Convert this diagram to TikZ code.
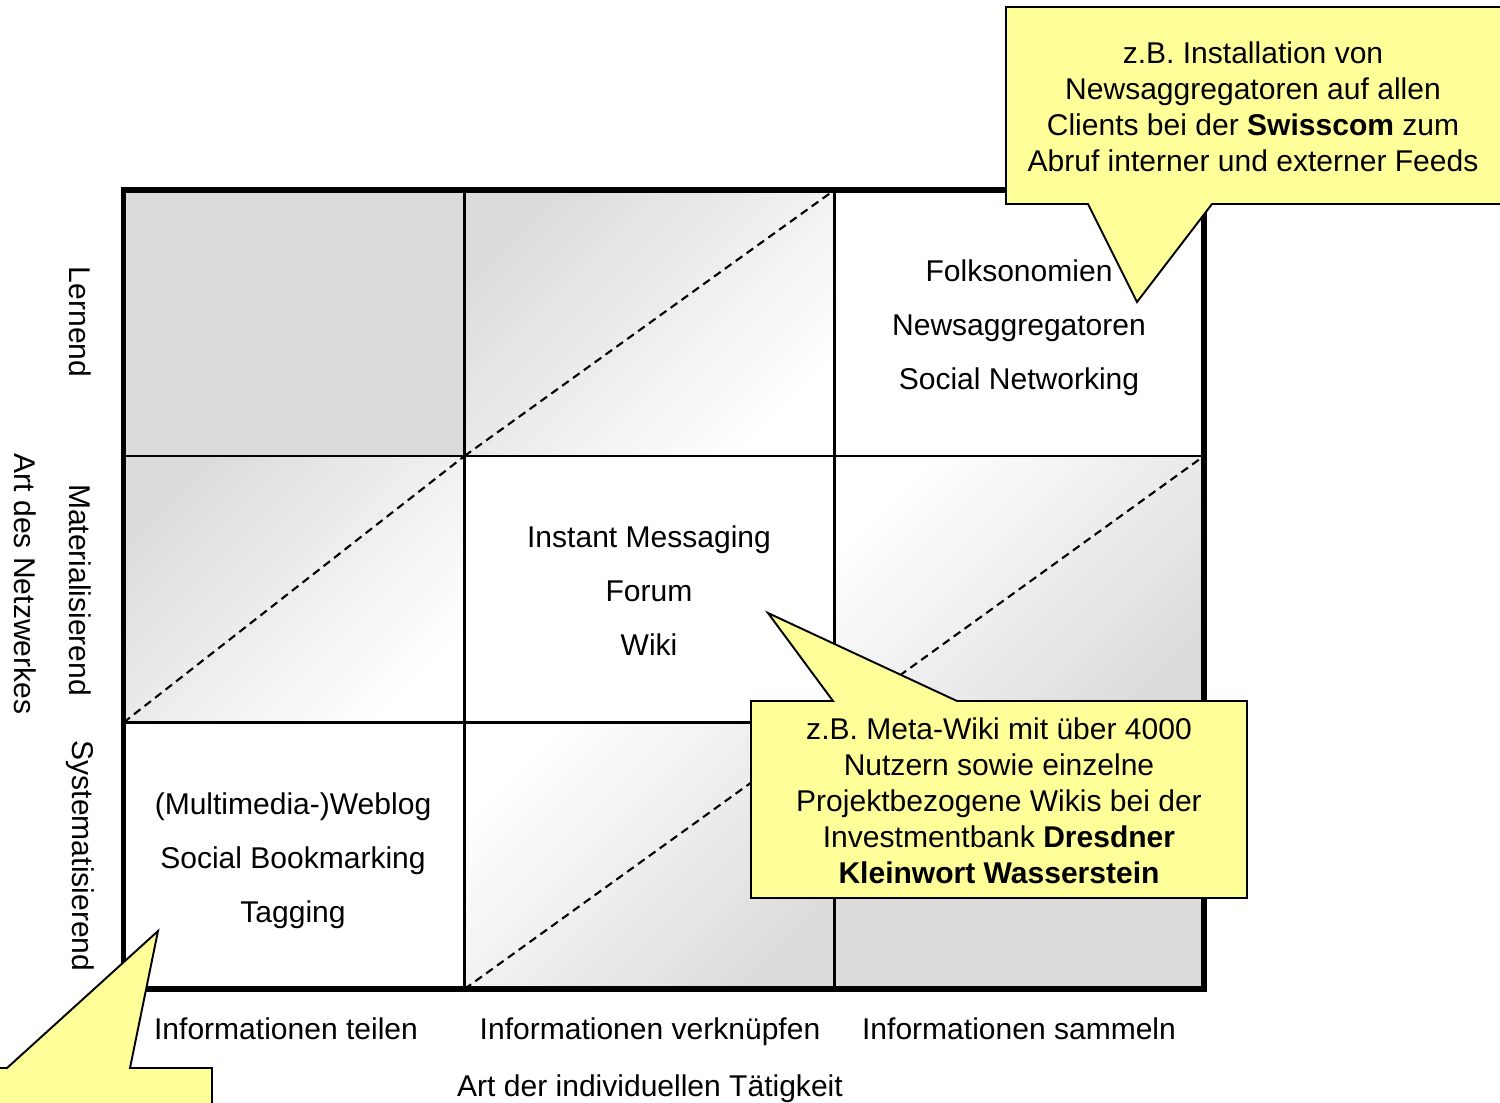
\documentclass[tikz,border=0pt]{standalone}
\usepackage{fontspec}
\setmainfont{Liberation Sans}
\definecolor{cellgray}{RGB}{220,220,220}
\definecolor{noteyellow}{RGB}{255,255,153}
\begin{document}
\begin{tikzpicture}[x=0.01cm,y=-0.01cm,
  lbl/.style={font=\fontsize{8.54pt}{10.24pt}\selectfont, inner sep=0pt},
  vlbl/.style={lbl, rotate=-90},
  celltext/.style={font=\fontsize{8.54pt}{15.36pt}\selectfont, align=center, inner sep=0pt},
  notetext/.style={font=\fontsize{8.54pt}{10.24pt}\selectfont, align=center, inner sep=0pt},
  gridline/.style={line width=0.75pt},
  frameline/.style={line width=1.45pt},
  diag/.style={line width=0.6pt, dash pattern=on 2.3pt off 1.5pt},
  callout/.style={draw=black, fill=noteyellow, line width=0.55pt, line join=miter},
  darkcorner/.style={top color=cellgray, bottom color=white, shading angle=45},
  lightcorner/.style={top color=white, bottom color=cellgray, shading angle=45},
]
\useasboundingbox (0,0) rectangle (1500,1102);
\clip (0,0) rectangle (1500,1102);

% grid corners: columns c0..c3, rows r0..r3
\coordinate (a00) at (123.5,190);   \coordinate (a10) at (464.5,190);
\coordinate (a20) at (834.5,190);   \coordinate (a30) at (1204,190);
\coordinate (a01) at (123.5,456);   \coordinate (a11) at (464.5,456);
\coordinate (a21) at (834.5,456);   \coordinate (a31) at (1204,456);
\coordinate (a02) at (123.5,722.5); \coordinate (a12) at (464.5,722.5);
\coordinate (a22) at (834.5,722.5); \coordinate (a32) at (1204,722.5);
\coordinate (a03) at (123.5,989);   \coordinate (a13) at (464.5,989);
\coordinate (a23) at (834.5,989);   \coordinate (a33) at (1204,989);

% cell fills
\fill[cellgray] (a00) rectangle (a11);
\fill[cellgray] (a22) rectangle (a33);
\shade[darkcorner] (a10) rectangle (a21);
\shade[darkcorner] (a01) rectangle (a12);
\shade[lightcorner] (a21) rectangle (a32);
\shade[lightcorner] (a12) rectangle (a23);

% diagonals of the split cells
\draw[diag] (a11) -- (a20);
\draw[diag] (a02) -- (a11);
\draw[diag] (a22) -- (a31);
\draw[diag] (a13) -- (a22);

% inner grid and frame
\draw[gridline] (a10) -- (a13) (a20) -- (a23) (a01) -- (a31) (a02) -- (a32);
\draw[frameline] (a00) rectangle (a33);

% cell contents
\node[celltext] (learn) at (1019,328) {Folksonomien\\Newsaggregatoren\\Social Networking};
\node[celltext] (material) at (649,591) {Instant Messaging\\Forum\\Wiki};
\node[celltext] (system) at (293,861) {(Multimedia-)Weblog\\Social Bookmarking\\Tagging};

% row labels
\node[vlbl] (rowA) at (80,322) {Lernend};
\node[vlbl] (rowB) at (80,590) {Materialisierend};
\node[vlbl] (rowC) at (80,856) {Systematisierend};
\node[vlbl] (yaxis) at (25,584) {Art des Netzwerkes};

% column labels
\node[lbl] (colA) at (286,1029) {Informationen teilen};
\node[lbl] (colB) at (650,1032) {Informationen verknüpfen};
\node[lbl] (colC) at (1019,1029) {Informationen sammeln};
\node[lbl] (xaxis) at (650,1089) {Art der individuellen Tätigkeit};

% callouts
\draw[callout] (1006,7) -- (1515,7) -- (1515,204) -- (1212,204) -- (1137,302)
  -- (1088,204) -- (1006,204) -- cycle;
\node[notetext] (noteA) at (1253,107) {z.B. Installation von\\Newsaggregatoren auf allen\\Clients bei der \textbf{Swisscom} zum\\Abruf interner und externer Feeds};

\draw[callout] (751,701) -- (833,701) -- (768,613) -- (957,701) -- (1247,701)
  -- (1247,898) -- (751,898) -- cycle;
\node[notetext] (noteB) at (999,801) {z.B. Meta-Wiki mit über 4000\\Nutzern sowie einzelne\\Projektbezogene Wikis bei der\\Investmentbank \textbf{Dresdner}\\\textbf{Kleinwort Wasserstein}};

\draw[callout] (-15,1068) -- (7,1068) -- (158,931) -- (130,1068) -- (212,1068)
  -- (212,1115) -- (-15,1115) -- cycle;
\end{tikzpicture}
\end{document}
